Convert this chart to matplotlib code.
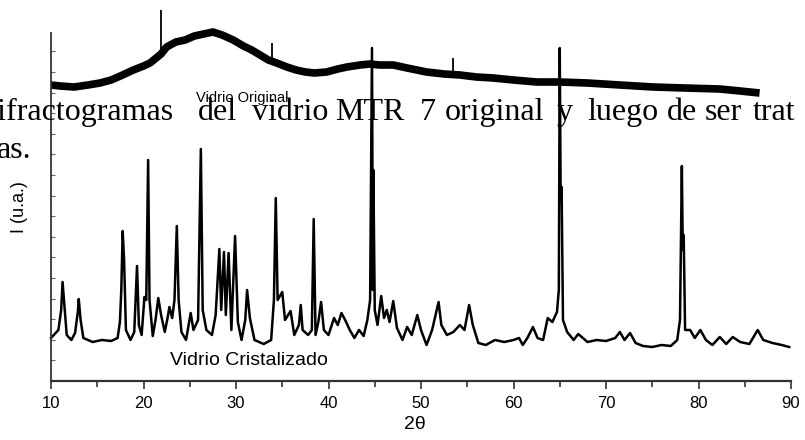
import matplotlib.pyplot as plt
from matplotlib.ticker import MultipleLocator

# Vidrio Cristalizado (2theta, intensidad u.a.)
theta_cris = [10.0, 10.4, 10.8, 11.1, 11.25, 11.45, 11.7, 12.2, 12.6, 12.9, 13.0, 13.2, 13.5,
              14.5, 15.5, 16.5, 17.2, 17.45, 17.6, 17.75, 17.9, 18.1, 18.6, 19.0, 19.3, 19.5,
              19.8, 20.1, 20.3, 20.5, 20.65, 21.0, 21.3, 21.6, 21.9, 22.3, 22.6, 22.8, 23.1,
              23.35, 23.6, 23.8, 24.1, 24.6, 25.1, 25.4, 25.9, 26.2, 26.4, 26.8, 27.4, 27.8,
              28.2, 28.4, 28.7, 28.9, 29.2, 29.5, 29.9, 30.2, 30.6, 31.0, 31.2, 31.5, 32.0,
              33.0, 33.8, 34.1, 34.3, 34.5, 35.0, 35.3, 35.9, 36.3, 36.8, 37.0, 37.2, 37.8,
              38.2, 38.4, 38.6, 38.9, 39.2, 39.5, 40.0, 40.6, 41.0, 41.4, 41.8, 42.3, 42.8,
              43.3, 43.8, 44.2, 44.5, 44.7, 44.8, 44.85, 45.0, 45.3, 45.7, 46.0, 46.3, 46.6,
              47.0, 47.4, 48.0, 48.5, 49.0, 49.6, 50.0, 50.6, 51.2, 51.9, 52.2, 52.8, 53.5,
              54.2, 54.7, 55.2, 55.6, 56.2, 57.0, 58.0, 59.0, 60.0, 60.6, 61.0, 61.5, 62.1,
              62.6, 63.2, 63.7, 64.2, 64.7, 64.9, 65.0, 65.1, 65.2, 65.35, 65.8, 66.5, 67.0,
              68.0, 69.0, 70.0, 71.0, 71.5, 72.0, 72.6, 73.2, 74.0, 75.0, 76.0, 77.0, 77.7,
              78.0, 78.2, 78.3, 78.4, 78.55, 79.1, 79.6, 80.2, 80.8, 81.5, 82.3, 83.0, 83.7,
              84.5, 85.5, 86.4, 87.0, 88.0, 89.0, 89.8]
int_cris = [43, 47, 51, 71, 99, 76, 46, 41, 48, 69, 82, 61, 43,
            39, 41, 40, 43, 59, 91, 150, 121, 51, 41, 49, 115, 56,
            46, 84, 81, 221, 81, 45, 61, 83, 66, 49, 63, 74, 63,
            81, 155, 81, 49, 41, 68, 51, 61, 232, 71, 51, 46, 66,
            132, 71, 129, 66, 128, 51, 145, 59, 41, 61, 91, 63, 41,
            37, 41, 81, 183, 81, 89, 61, 70, 46, 56, 76, 51, 46,
            51, 162, 46, 59, 79, 51, 46, 63, 56, 68, 61, 51, 43,
            51, 45, 61, 81, 333, 91, 211, 71, 56, 85, 63, 71, 59,
            80, 53, 41, 54, 46, 66, 51, 36, 51, 79, 56, 46, 49,
            56, 51, 76, 56, 38, 36, 41, 39, 41, 43, 36, 43, 54,
            43, 41, 63, 59, 69, 91, 333, 181, 194, 61, 49, 41, 47,
            39, 41, 40, 43, 49, 41, 48, 38, 35, 34, 36, 35, 41,
            61, 215, 131, 146, 51, 51, 43, 51, 41, 36, 44, 37, 44,
            39, 37, 51, 41, 38, 36, 34]

# Vidrio Original (fondo amorfo)
theta_orig = [10.0, 11.0, 12.5, 14.0, 15.3, 16.5, 17.5, 18.9, 20.0, 20.7, 21.5, 21.9,
              22.5, 23.5, 24.5, 25.5, 26.5, 27.5, 28.5, 29.7, 30.8, 31.7, 32.6, 33.5,
              34.4, 35.5, 36.5, 37.5, 38.5, 39.8, 41.0, 42.0, 43.4, 44.5, 45.5, 47.0,
              48.5, 50.6, 52.5, 54.2, 56.0, 57.8, 60.0, 62.5, 65.0, 68.0, 71.5, 75.1,
              78.5, 82.3, 84.5, 86.6]
int_orig = [296, 295, 294, 296, 298, 301, 305, 311, 315, 318, 324, 327,
            334, 339, 341, 345, 347, 349, 346, 341, 335, 331, 326, 321,
            318, 314, 311, 309, 308, 309, 312, 314, 316, 317, 316, 316,
            313, 309, 307, 306, 304, 303, 301, 299, 299, 298, 296, 294,
            293, 292, 290, 288]
# picos finos sobre el vidrio original
spike_theta = [21.9, 33.9, 53.5]
spike_base = [327, 320, 307]
spike_top = [371, 338, 323]

x_ticks = [10, 20, 30, 40, 50, 60, 70, 80, 90]

W, H = 805, 440
fig = plt.figure(figsize=(W / 100, H / 100), dpi=100)
ax = fig.add_axes([51 / W, 1 - 381 / H, 740 / W, 348 / H])

ax.plot(theta_orig, int_orig, color='black', lw=5.5, clip_on=False,
        solid_joinstyle='round', solid_capstyle='butt')
ax.vlines(spike_theta, spike_base, spike_top, color='black', lw=1.3, clip_on=False)
ax.plot(theta_cris, int_cris, color='black', lw=1.8, clip_on=False,
        solid_joinstyle='round')

ax.set_xlim(10, 90)
ax.set_ylim(0, 348)
ax.set_xticks(x_ticks)
ax.xaxis.set_minor_locator(MultipleLocator(5))
ax.yaxis.set_major_locator(MultipleLocator(20.6))
ax.set_yticklabels([])
ax.tick_params(axis='x', which='major', direction='out', length=6, width=1.2,
               color='#333333', labelsize=12, pad=5)
ax.tick_params(axis='x', which='minor', direction='out', length=4, width=1.2, color='#333333')
ax.tick_params(axis='y', which='major', direction='in', length=3, width=0.8, color='#666666')
for lab in ax.get_xticklabels():
    lab.set_family('Liberation Sans')

ax.spines['top'].set_visible(False)
ax.spines['right'].set_visible(False)
ax.spines['left'].set_color('#333333')
ax.spines['bottom'].set_color('#333333')
ax.spines['left'].set_linewidth(1.3)
ax.spines['bottom'].set_linewidth(1.6)

fig.text(415 / W, 1 - 424 / H, '2θ', ha='center', va='center', fontsize=14,
         family='Liberation Sans')
fig.text(20 / W, 1 - 207 / H, 'I (u.a.)', ha='center', va='center', rotation=90,
         fontsize=13, family='Liberation Sans')

fig.text(170 / W, 1 - 360 / H, 'Vidrio Cristalizado', ha='left', va='center',
         fontsize=14, family='Liberation Sans')
fig.text(196 / W, 1 - 98 / H, 'Vidrio Original', ha='left', va='center',
         fontsize=10.5, family='Liberation Sans')

# texto de la leyenda superpuesto (justificado)
words = ['Difractogramas', 'del', 'vidrio', 'MTR', '7', 'original', 'y', 'luego', 'de', 'ser', 'trat']
word_x = [-26, 198, 252, 335, 420, 445, 557, 587, 667, 705, 753]
for w, x in zip(words, word_x):
    fig.text(x / W, 1 - 120 / H, w, ha='left', va='baseline', fontsize=23,
             family='Liberation Serif')
fig.text(-3 / W, 1 - 158 / H, 'as.', ha='left', va='baseline', fontsize=23,
         family='Liberation Serif')

fig.savefig('out.png', dpi=100)
